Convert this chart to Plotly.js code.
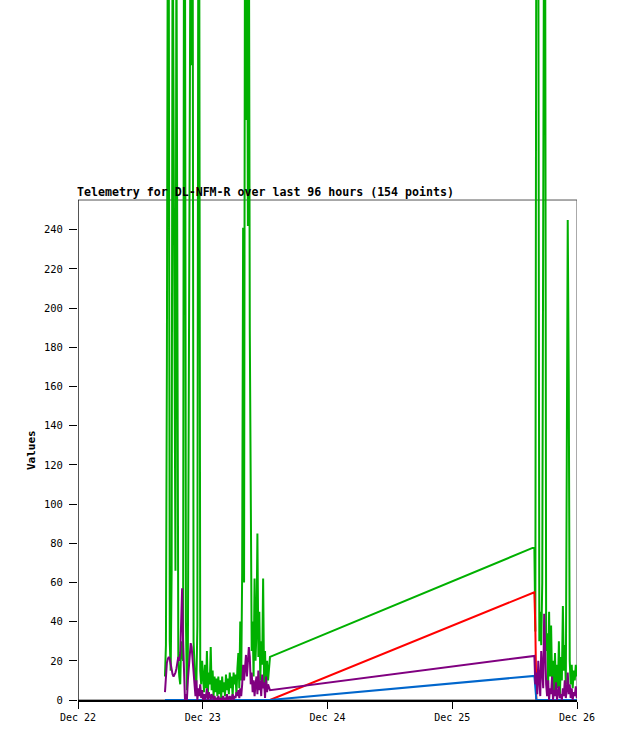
<!DOCTYPE html>
<html>
<head>
<meta charset="utf-8">
<script src="https://cdn.plot.ly/plotly-3.0.1.min.js"></script>
<style>html,body{margin:0;padding:0;background:#fff;}#chart{width:618px;height:741px;}</style>
</head>
<body>
<div id="chart"></div>
<script>
// ---- DATA ----
var titleText = "Telemetry for DL-NFM-R over last 96 hours (154 points)";
var yTitle = "Values";
var xStart = "2023-12-22 00:00";
var xEnd = "2023-12-26 00:00";
var yTickVals = [0,20,40,60,80,100,120,140,160,180,200,220,240];

var timesDec22 = ["16:44","16:55","17:06","17:17","17:28","17:39","17:50","18:01","18:12","18:23",
"18:34","18:45","18:56","19:07","19:18","19:29","19:40","19:51","20:02","20:13",
"20:24","20:35","20:46","20:57","21:08","21:19","21:30","21:41","21:52","22:03",
"22:14","22:25","22:36","22:47","22:58","23:09","23:20","23:31","23:42","23:53"];
var timesDec23 = ["00:04","00:15","00:26","00:37","00:48","00:59","01:10","01:21","01:32","01:43",
"01:54","02:05","02:16","02:27","02:38","02:49","03:00","03:11","03:22","03:33",
"03:44","03:55","04:06","04:17","04:28","04:39","04:50","05:01","05:12","05:23",
"05:34","05:45","05:56","06:07","06:18","06:29","06:40","06:51","07:02","07:13",
"07:24","07:35","07:46","07:57","08:08","08:19","08:30","08:41","08:52","09:03",
"09:14","09:25","09:36","09:47","09:58","10:09","10:20","10:31","10:42","10:53",
"11:04","11:15","11:26","11:37","11:48","11:59","12:10","12:22","12:34","12:56"];
var timesDec25 = ["15:48","15:59","16:11","16:22","16:33","16:45","16:56","17:07","17:19","17:30",
"17:41","17:53","18:04","18:15","18:27","18:38","18:49","19:01","19:12","19:23",
"19:35","19:46","19:57","20:09","20:20","20:31","20:43","20:54","21:05","21:17",
"21:28","21:39","21:51","22:02","22:13","22:25","22:36","22:47","22:59","23:10",
"23:22","23:34","23:46","23:58"];

var greenVals = [12,28,170,420,380,30,15,66,420,292,150,66,400,160,20,12,8,30,25,20,
430,390,40,5,20,148,287,430,324,420,30,20,5,10,38,410,380,15,8,20,
12,4,18,6,25,3,14,8,27,5,15,2,12,4,11,2,12,3,10,1,
12,4,9,2,13,5,11,3,14,6,12,2,14,8,13,3,16,24,6,40,
10,65,241,60,420,296,430,242,420,189,57,25,40,12,62,20,35,85,22,45,
10,30,18,62,8,25,5,20,10,22,
78,35,430,400,420,30,45,28,60,272,430,380,25,34,8,45,12,38,10,20,
5,24,3,18,6,30,2,22,10,48,15,28,8,122,245,160,20,8,18,6,
15,10,18,12];
var redVals = [0,0,0,0,0,0,0,0,0,0,0,0,0,0,0,0,0,0,0,0,
0,0,0,0,0,0,0,0,0,0,0,0,0,0,0,0,0,0,0,0,
0,0,0,0,0,0,0,0,0,0,0,0,0,0,0,0,0,0,0,0,
0,0,0,0,0,0,0,0,0,0,0,0,0,0,0,0,0,0,0,0,
0,0,0,0,0,0,0,0,0,0,0,0,0,0,0,0,0,0,0,0,
0,0,0,0,0,0,0,0,0,0,
55,37,0,0,0,0,0,0,0,0,0,0,0,0,0,0,0,0,0,0,
0,0,0,0,0,0,0,0,0,0,0,0,0,0,0,0,0,0,0,0,
0,0,0,0];
var blueVals = [0,0,0,0,0,0,0,0,0,0,0,0,0,0,0,0,0,0,0,0,
0,0,0,0,0,0,0,0,0,0,0,0,0,0,0,0,0,0,0,0,
0,0,0,0,0,0,0,0,0,0,0,0,0,0,0,0,0,0,0,0,
0,0,0,0,0,0,0,0,0,0,0,0,0,0,0,0,0,0,0,0,
0,0,0,0,0,0,0,0,0,0,0,0,0,0,0,0,0,0,0,0,
0,0,0,0,0,0,0,0,0,0,
12.3,5,0,0,0,0,0,0,0,0,0,0,0,0,0,0,0,0,0,0,
0,0,0,0,0,0,0,0,0,0,0,0,0,0,0,0,0,0,0,0,
0,0,0,0];
var purpleVals = [4,14,19,21,22,21,18,15,13,12,13,14,16,19,22,20,24,40,57,30,
8,0,3,0,10,18,24,29,27,22,15,8,2,10,0,6,2,8,1,5,
0,3,0,2,6,0,4,1,0,3,1,0,2,0,1,0,2,0,1,0,
0,2,0,1,0,3,0,1,2,0,1,3,0,2,1,4,2,5,1,6,
2,8,18,10,15,23,12,20,27,22,8,14,4,10,2,8,12,3,15,5,
10,2,13,6,9,1,12,4,8,5,
22.5,8,14,3,20,10,2,25,14,6,44,18,8,2,10,0,6,3,12,0,
5,2,9,0,4,7,1,3,0,6,2,10,1,5,14,3,8,1,6,0,
4,2,7,1];

var seriesColors = {green:"#00b000", red:"#ff0000", blue:"#0066cc", purple:"#800080"};

// ---- BUILD ----
var times = timesDec22.map(function(t){return "2023-12-22 " + t;})
  .concat(timesDec23.map(function(t){return "2023-12-23 " + t;}))
  .concat(timesDec25.map(function(t){return "2023-12-25 " + t;}));

function tr(vals, color){
  return {x: times, y: vals, type: "scatter", mode: "lines",
          line: {color: color, width: 2}, hoverinfo: "skip", showlegend: false};
}
var data = [tr(greenVals, seriesColors.green), tr(redVals, seriesColors.red),
            tr(blueVals, seriesColors.blue), tr(purpleVals, seriesColors.purple)];

var frameTop = 255.2;
var yMax = 357.3;
var font = "DejaVu Sans Mono";

var layout = {
  width: 618, height: 741,
  margin: {l: 78, r: 41, t: 0, b: 41, pad: 0},
  paper_bgcolor: "#ffffff", plot_bgcolor: "rgba(0,0,0,0)",
  showlegend: false,
  font: {family: font, color: "#000", size: 10},
  title: {text: titleText, xref: "container", yref: "container",
          x: 77/618, xanchor: "left", y: 1 - 192/741, yanchor: "middle",
          font: {family: font, size: 11.6, weight: "bold", color: "#000"}},
  xaxis: {type: "date", range: [xStart, xEnd], dtick: 86400000, tick0: xStart,
          tickformat: "%b %d", showgrid: false, zeroline: false,
          showline: true, linecolor: "#000", linewidth: 2,
          ticks: "outside", ticklen: 7, tickwidth: 1, tickcolor: "#000",
          tickfont: {family: font, size: 10, color: "#000"}, fixedrange: true},
  yaxis: {range: [0, yMax], tickmode: "array", tickvals: yTickVals,
          showgrid: false, zeroline: false, showline: false,
          ticks: "outside", ticklen: 8, tickwidth: 1, tickcolor: "#000",
          ticklabelstandoff: 4,
          tickfont: {family: font, size: 10.5, color: "#000"}, fixedrange: true},
  shapes: [
    {type: "rect", xref: "x", yref: "y", x0: xStart, x1: xEnd, y0: 0, y1: frameTop,
     line: {color: "#555555", width: 1}, layer: "below"},
    {type: "line", xref: "x", yref: "y", x0: xStart, x1: xStart, y0: -2.5, y1: frameTop,
     line: {color: "#000000", width: 1}, layer: "above"}
  ],
  annotations: [
    {text: yTitle, xref: "paper", yref: "y", x: (31-78)/499, y: frameTop/2,
     textangle: -90, showarrow: false, xanchor: "center", yanchor: "middle",
     font: {family: font, size: 11, weight: "bold", color: "#000"}}
  ]
};

Plotly.newPlot("chart", data, layout, {displayModeBar: false, staticPlot: true});
</script>
</body>
</html>
